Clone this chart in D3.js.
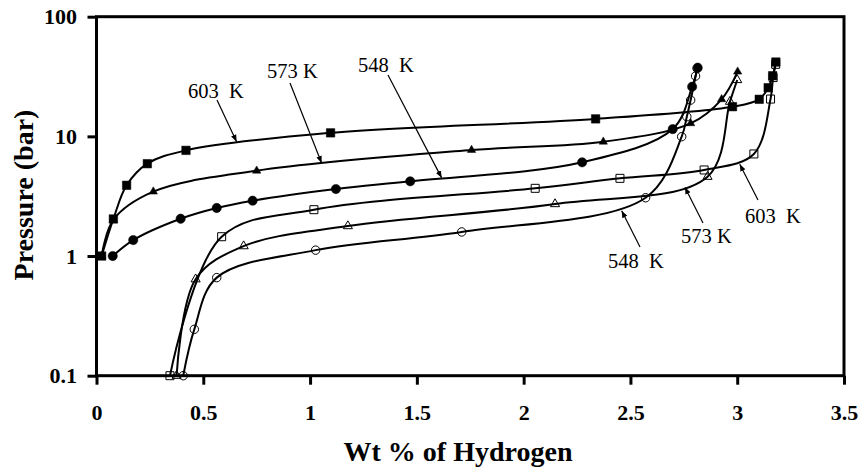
<!DOCTYPE html>
<html>
<head>
<meta charset="utf-8">
<script src="https://cdn.jsdelivr.net/npm/d3@7"></script>
<style>
  html, body { margin: 0; padding: 0; background: #fff; }
  svg { display: block; }
  text { font-family: "Liberation Serif", "Times New Roman", serif; fill: #000; }
</style>
</head>
<body>
<svg id="chart" width="863" height="470"></svg>
<script>
// Pressure-composition isotherms: absorption (filled) and desorption (open)
const xTicks = [0, 0.5, 1, 1.5, 2, 2.5, 3, 3.5];
const yTicks = [0.1, 1, 10, 100];

// 603 K
const wt603Abs = [0.024, 0.079, 0.141, 0.238, 0.419, 1.096, 2.337, 2.978, 3.103, 3.145, 3.166, 3.181];
const p603Abs  = [1.0, 2.04, 3.90, 5.91, 7.64, 10.7, 14.0, 17.7, 20.4, 25.5, 32.1, 41.8];
const wt603Des = [0.344, 0.586, 1.018, 2.054, 2.451, 2.845, 3.078, 3.156, 3.168, 3.180];
const p603Des  = [0.1, 1.45, 2.44, 3.68, 4.46, 5.24, 7.13, 20.5, 31.0, 40.0];

// 573 K
const wt573Abs = [0.024, 0.078, 0.266, 0.750, 1.756, 2.373, 2.782, 2.927, 3.002];
const p573Abs  = [1.0, 2.0, 3.45, 5.16, 7.69, 9.02, 12.85, 20.4, 34.7];
const wt573Des = [0.375, 0.464, 0.689, 1.177, 2.147, 2.861, 2.966, 3.000];
const p573Des  = [0.1, 0.64, 1.21, 1.78, 2.72, 4.60, 19.5, 29.6];

// 548 K
const wt548Abs = [0.076, 0.172, 0.394, 0.563, 0.731, 1.121, 1.469, 2.274, 2.698, 2.789, 2.815];
const p548Abs  = [1.0, 1.36, 2.05, 2.52, 2.90, 3.63, 4.21, 6.07, 11.5, 26.0, 37.5];
const wt548Des = [0.406, 0.458, 0.563, 1.026, 1.710, 2.571, 2.740, 2.764, 2.782, 2.805, 2.812];
const p548Des  = [0.1, 0.244, 0.66, 1.12, 1.59, 3.07, 9.94, 14.6, 20.1, 31.9, 37.0];

const series = [
  { x: wt603Des, y: p603Des, shape: d3.symbolSquare,   size: 64, filled: false },
  { x: wt573Des, y: p573Des, shape: d3.symbolTriangle, size: 36, filled: false },
  { x: wt548Des, y: p548Des, shape: d3.symbolCircle,   size: 56, filled: false },
  { x: wt603Abs, y: p603Abs, shape: d3.symbolSquare,   size: 72, filled: true },
  { x: wt573Abs, y: p573Abs, shape: d3.symbolTriangle, size: 30, filled: true },
  { x: wt548Abs, y: p548Abs, shape: d3.symbolCircle,   size: 68, filled: true }
];

// Curve labels with pointer arrows [text, label x, label y, arrow from (x1,y1) to tip (wt, p)]
const labelText = ["603  K", "573 K", "548  K", "548  K", "573 K", "603  K"];
const labelPos  = [[188, 98], [267, 78], [358, 72], [608, 268], [681, 243], [745, 223]];
const arrowFrom = [[217, 100], [290, 83], [388, 75], [640, 247], [703, 223], [758, 200]];
const arrowTipWt = [0.656, 1.054, 1.616, 2.459, 2.755, 3.012];
const arrowTipP  = [9.03, 6.0, 4.5, 2.39, 3.75, 5.85];

const svg = d3.select("#chart");
const x = d3.scaleLinear().domain([0, 3.5]).range([96.5, 844]);
const y = d3.scaleLog().domain([0.1, 100]).range([375.7, 16.7]);

svg.append("defs").append("marker")
  .attr("id", "arrowhead")
  .attr("viewBox", "0 0 10 10")
  .attr("refX", 10).attr("refY", 5)
  .attr("markerWidth", 7).attr("markerHeight", 7)
  .attr("markerUnits", "userSpaceOnUse")
  .attr("orient", "auto")
  .append("path").attr("d", "M0,1 L10,5 L0,9 Z").attr("fill", "#000");

// Axes
const xAxis = d3.axisBottom(x).tickValues(xTicks).tickSize(9).tickSizeOuter(0).tickPadding(19.7)
  .tickFormat(d => String(d));
const yAxis = d3.axisLeft(y).tickValues(yTicks).tickSize(9).tickSizeOuter(0).tickPadding(10.5)
  .tickFormat(d => String(d));

const gx = svg.append("g").attr("transform", "translate(0,375.7)").call(xAxis);
const gy = svg.append("g").attr("transform", "translate(96.5,0)").call(yAxis);
[gx, gy].forEach(g => {
  g.select(".domain").remove();
  g.selectAll(".tick line").attr("stroke", "#000").attr("stroke-width", 3);
  g.selectAll(".tick text")
    .style("font-family", "'Liberation Serif', 'Times New Roman', serif")
    .style("font-weight", "bold").style("font-size", "22px").attr("fill", "#000");
});

// Plot frame
svg.append("rect")
  .attr("x", x(0)).attr("y", y(100))
  .attr("width", x(3.5) - x(0)).attr("height", y(0.1) - y(100))
  .attr("fill", "none").attr("stroke", "#000").attr("stroke-width", 3);

// Axis titles
svg.append("text").attr("x", 458).attr("y", 461).attr("text-anchor", "middle")
  .style("font-weight", "bold").style("font-size", "28px").text("Wt % of Hydrogen");
svg.append("text").attr("transform", "translate(33,195) rotate(-90)").attr("text-anchor", "middle")
  .style("font-weight", "bold").style("font-size", "28px").text("Pressure (bar)");

// Curves
const line = d3.line().x(d => x(d[0])).y(d => y(d[1])).curve(d3.curveCatmullRom.alpha(0.5));
series.forEach(s => {
  const pts = s.x.map((v, i) => [v, s.y[i]]);
  svg.append("path").datum(pts).attr("d", line)
    .attr("fill", "none").attr("stroke", "#000").attr("stroke-width", 2);
});

// Markers
series.forEach(s => {
  const pts = s.x.map((v, i) => [v, s.y[i]]);
  svg.append("g").selectAll("path").data(pts).join("path")
    .attr("transform", d => `translate(${x(d[0])},${y(d[1])})`)
    .attr("d", d3.symbol().type(s.shape).size(s.size))
    .attr("fill", s.filled ? "#000" : "none")
    .attr("stroke", "#000").attr("stroke-width", s.filled ? 0.5 : 1);
});

// Labels and arrows
labelText.forEach((t, i) => {
  svg.append("line")
    .attr("x1", arrowFrom[i][0]).attr("y1", arrowFrom[i][1])
    .attr("x2", x(arrowTipWt[i])).attr("y2", y(arrowTipP[i]))
    .attr("stroke", "#000").attr("stroke-width", 1.2)
    .attr("marker-end", "url(#arrowhead)");
  svg.append("text").attr("x", labelPos[i][0]).attr("y", labelPos[i][1])
    .style("font-size", "20.5px").style("white-space", "pre").attr("xml:space", "preserve")
    .text(t);
});
</script>
</body>
</html>
